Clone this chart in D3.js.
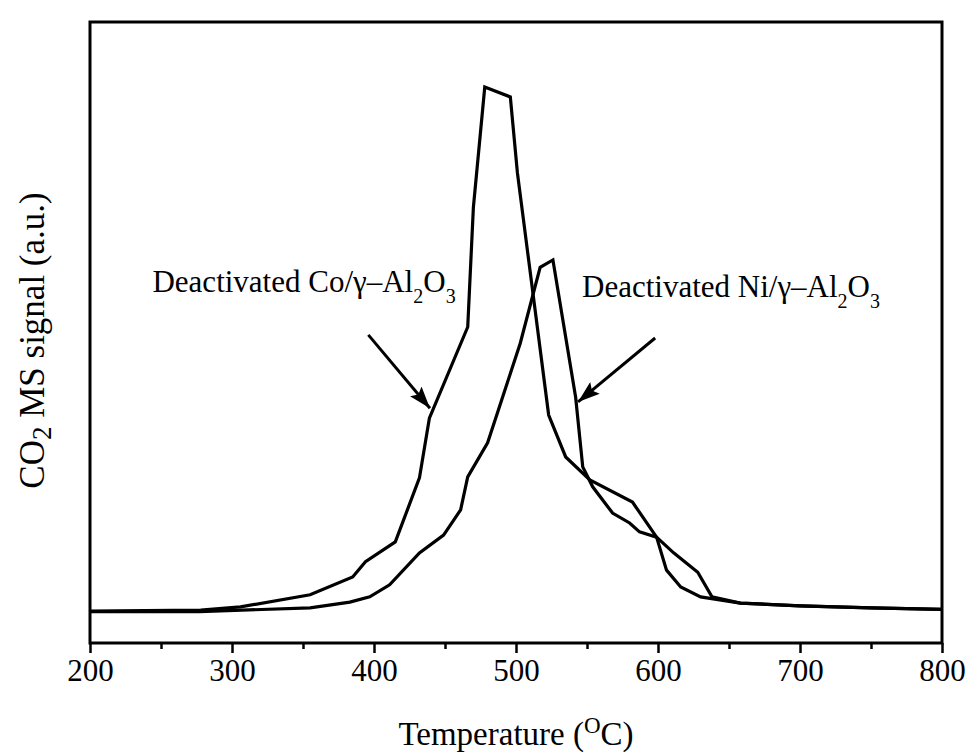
<!DOCTYPE html>
<html>
<head>
<meta charset="utf-8">
<script src="https://cdn.jsdelivr.net/npm/d3@7"></script>
<style>
  html, body { margin: 0; padding: 0; background: #fff; }
  svg { display: block; }
  text { font-family: "Liberation Serif", "Times New Roman", serif; fill: #000; }
</style>
</head>
<body>
<svg id="chart" width="970" height="752"></svg>
<script>
// Temperature-programmed oxidation profiles (CO2 MS signal, arbitrary units)
const coTemp = [200, 278, 306, 355, 385, 394, 415, 432, 439, 466, 470, 478, 496, 501, 523, 535, 552, 582, 599, 606, 616, 630, 658, 700, 750, 800];
const coSignal = [0, 0.2, 0.8, 3.1, 6.5, 9.4, 13.2, 25.4, 36.8, 54.2, 77.1, 100, 98.1, 83.6, 37.4, 29.4, 25.0, 20.8, 14.1, 7.8, 4.6, 2.7, 1.5, 1.0, 0.6, 0.3];

const niTemp = [200, 277, 355, 383, 397, 411, 432, 449, 461, 466, 480, 503, 517, 526, 542, 547, 554, 568, 580, 587, 599, 611, 628, 638, 658, 700, 750, 800];
const niSignal = [-0.1, -0.1, 0.6, 1.7, 2.7, 5.0, 11.1, 14.5, 19.3, 25.6, 32.1, 51.1, 65.6, 67.0, 40.8, 27.5, 23.7, 18.7, 16.8, 15.1, 14.1, 11.1, 7.4, 2.7, 1.5, 1.0, 0.6, 0.3];

const xMajorTicks = [200, 300, 400, 500, 600, 700, 800];
const xMinorTicks = [250, 350, 450, 550, 650, 750];

// Annotation labels and arrows, in data coordinates
const labelMetal = ["Co", "Ni"];
const labelTemp = [244, 546.5];
const labelSignal = [60.9, 59.9];
const arrowFromTemp = [396, 598];
const arrowFromSignal = [52.7, 52.1];
const arrowToTemp = [439.4, 543.7];
const arrowToSignal = [38.7, 39.9];

const svg = d3.select("#chart");
const plot = { left: 90, right: 942, top: 22, bottom: 643 };

const x = d3.scaleLinear().domain([200, 800]).range([plot.left, plot.right]);
const y = d3.scaleLinear().domain([-6.1, 112.4]).range([plot.bottom, plot.top]);

// Arrowhead marker
svg.append("defs").append("marker")
  .attr("id", "arrowhead")
  .attr("markerUnits", "userSpaceOnUse")
  .attr("viewBox", "0 0 22 15")
  .attr("refX", 22).attr("refY", 7.5)
  .attr("markerWidth", 22).attr("markerHeight", 15)
  .attr("orient", "auto")
  .append("path")
  .attr("d", "M0,0 L22,7.5 L0,15 L4,7.5 Z")
  .attr("fill", "#000");

// Curves
const line = d3.line().x(d => x(d[0])).y(d => y(d[1]));
const series = [
  d3.zip(coTemp, coSignal),
  d3.zip(niTemp, niSignal)
];
svg.append("g").selectAll("path.curve")
  .data(series)
  .join("path")
  .attr("class", "curve")
  .attr("d", line)
  .attr("fill", "none")
  .attr("stroke", "#000")
  .attr("stroke-width", 3.2)
  .attr("stroke-linejoin", "miter")
  .attr("stroke-miterlimit", 3);

// Frame
svg.append("rect")
  .attr("x", plot.left).attr("y", plot.top)
  .attr("width", plot.right - plot.left)
  .attr("height", plot.bottom - plot.top)
  .attr("fill", "none")
  .attr("stroke", "#000")
  .attr("stroke-width", 3);

// Bottom axis: major ticks with labels
const xAxis = d3.axisBottom(x).tickValues(xMajorTicks).tickSize(10).tickPadding(6).tickFormat(d3.format("d"));
const gx = svg.append("g").attr("transform", `translate(0,${plot.bottom})`).call(xAxis);
gx.select(".domain").remove();
gx.selectAll(".tick line").attr("stroke", "#000").attr("stroke-width", 2.5);
gx.selectAll(".tick text").style("font-size", "31px").style("font-family", "'Liberation Serif', 'Times New Roman', serif");

// Bottom axis: minor ticks
const xMinor = d3.axisBottom(x).tickValues(xMinorTicks).tickSize(6).tickFormat("");
const gxm = svg.append("g").attr("transform", `translate(0,${plot.bottom})`).call(xMinor);
gxm.select(".domain").remove();
gxm.selectAll(".tick line").attr("stroke", "#000").attr("stroke-width", 2.5);

// Axis titles
const xTitle = svg.append("text")
  .attr("x", (plot.left + plot.right) / 2)
  .attr("y", 745)
  .attr("text-anchor", "middle")
  .style("font-size", "33px");
xTitle.append("tspan").text("Temperature (");
xTitle.append("tspan").attr("dy", -12).style("font-size", "23px").text("O");
xTitle.append("tspan").attr("dy", 12).text("C)");

const yTitle = svg.append("text")
  .attr("transform", `translate(44,${(plot.top + plot.bottom) / 2 + 8}) rotate(-90)`)
  .attr("text-anchor", "middle")
  .style("font-size", "35px");
yTitle.append("tspan").text("CO");
yTitle.append("tspan").attr("dy", 7).style("font-size", "27px").text("2");
yTitle.append("tspan").attr("dy", -7).text(" MS signal (a.u.)");

// Annotation labels
labelMetal.forEach((m, i) => {
  const t = svg.append("text")
    .attr("x", x(labelTemp[i]))
    .attr("y", y(labelSignal[i]))
    .style("font-size", "31px");
  t.append("tspan").text(`Deactivated ${m}/γ–Al`);
  t.append("tspan").attr("dy", 11).style("font-size", "20px").text("2");
  t.append("tspan").attr("dy", -11).text("O");
  t.append("tspan").attr("dy", 11).style("font-size", "20px").text("3");
});

// Annotation arrows
svg.append("g").selectAll("line.arrow")
  .data(labelMetal.map((m, i) => i))
  .join("line")
  .attr("class", "arrow")
  .attr("x1", i => x(arrowFromTemp[i]))
  .attr("y1", i => y(arrowFromSignal[i]))
  .attr("x2", i => x(arrowToTemp[i]))
  .attr("y2", i => y(arrowToSignal[i]))
  .attr("stroke", "#000")
  .attr("stroke-width", 3)
  .attr("marker-end", "url(#arrowhead)");
</script>
</body>
</html>
